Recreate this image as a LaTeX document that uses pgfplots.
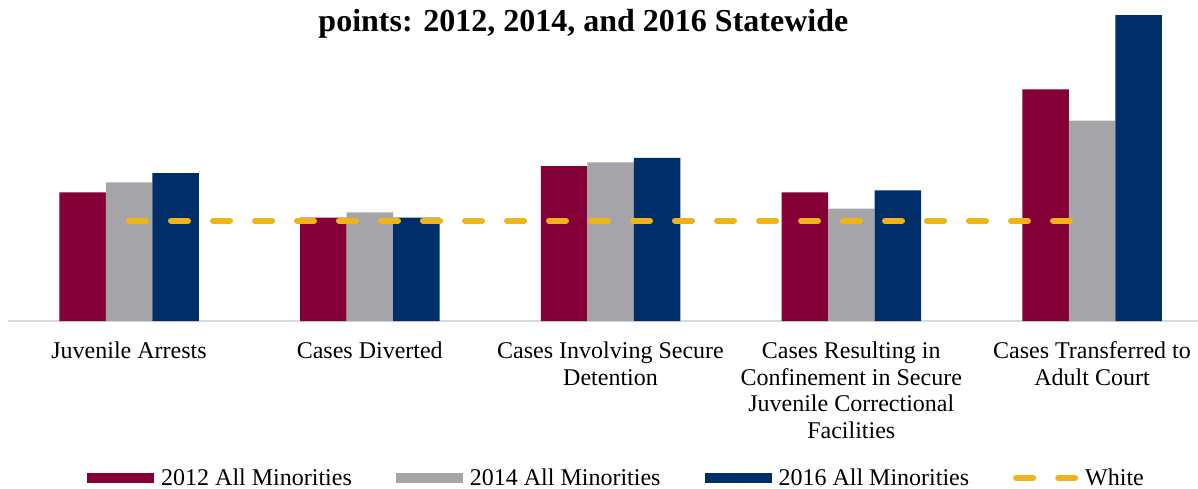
\documentclass[border=0pt]{standalone}
\usepackage{fontspec}
\setmainfont{Liberation Serif}
\usepackage{pgfplots}
\pgfplotsset{compat=1.18}
\definecolor{cRed}{RGB}{133,0,54}
\definecolor{cGray}{RGB}{165,165,169}
\definecolor{cBlue}{RGB}{0,46,105}
\definecolor{cGold}{RGB}{241,180,24}
\definecolor{axgray}{RGB}{217,217,217}
\pgfplotsset{
  whitelegend/.style={legend image code/.code={\draw[##1] (3bp,0bp) -- (62bp,0bp);}},
}
\begin{document}
\begin{tikzpicture}
\begin{axis}[
  scale only axis, width=1190bp, height=321bp,
  xmin=-0.5026, xmax=4.4403, ymin=0, ymax=3.2,
  ybar=0pt, bar width=46.5bp,
  axis x line=bottom, axis y line=none,
  x axis line style={draw=axgray, line width=2bp, -},
  xtick={0,1,2,3,4},
  xticklabels={{Juvenile Arrests},{Cases Diverted},{Cases Involving Secure\\Detention},{Cases Resulting in\\Confinement in Secure\\Juvenile Correctional\\Facilities},{Cases Transferred to\\Adult Court}},
  major tick length=0pt,
  xticklabel style={font=\fontsize{24bp}{26.7bp}\selectfont, align=center, anchor=north, inner sep=0pt, yshift=-20.5bp},
  legend columns=4,
  legend style={draw=none, fill=none, at={(0.0664,-0.4891)}, anchor=west, inner sep=0pt,
    font=\fontsize{24bp}{28bp}\selectfont,
    nodes={inner sep=0pt},
    /tikz/every odd column/.append style={column sep=7bp},
    /tikz/every even column/.append style={column sep=44bp}},
  legend image code/.code={\fill[#1] (0bp,-5bp) rectangle (67bp,5bp);},
]
\addplot[fill=cRed, draw=none] coordinates {(0,1.283) (1,1.03) (2,1.545) (3,1.283) (4,2.31)};
\addlegendentry{2012 All Minorities}
\addplot[fill=cGray, draw=none] coordinates {(0,1.383) (1,1.084) (2,1.582) (3,1.12) (4,1.997)};
\addlegendentry{2014 All Minorities}
\addplot[fill=cBlue, draw=none] coordinates {(0,1.473) (1,1.03) (2,1.625) (3,1.303) (4,3.048)};
\addlegendentry{2016 All Minorities}
\addplot[sharp plot, draw=cGold, fill=none, line width=6bp, dash pattern=on 17bp off 25bp, line cap=round, mark=none, whitelegend] coordinates {(0,1) (4,1)};
\addlegendentry{White}
\end{axis}
\node[font=\bfseries\fontsize{32bp}{36bp}\selectfont, anchor=base] at (575.4bp,289bp) {points: 2012, 2014, and 2016 Statewide};
\pgfresetboundingbox
\path[use as bounding box] (-8bp,-168bp) rectangle (1190bp,321bp);
\end{tikzpicture}
\end{document}
